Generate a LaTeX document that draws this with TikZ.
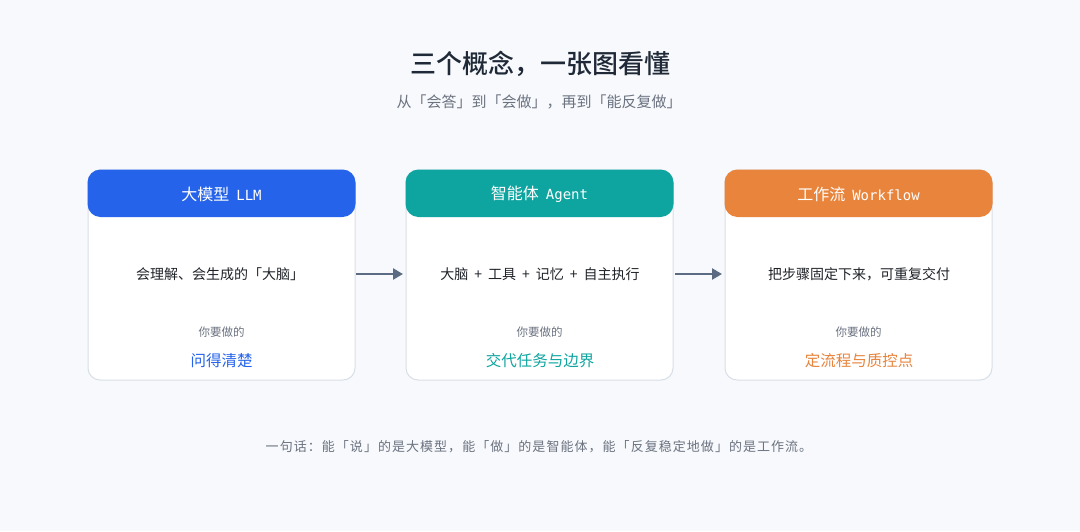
\documentclass[tikz,border=0pt]{standalone}
\usepackage{fontspec}
\setmainfont{Noto Sans CJK SC}
\newfontfamily\cjkb{Noto Sans CJK SC Medium}
\newfontfamily\cjksp[LetterSpace=8]{Noto Sans CJK SC}
\newfontfamily\monof{DejaVu Sans Mono}
\usetikzlibrary{arrows.meta}
\definecolor{bg}{HTML}{F7F9FC}
\definecolor{cardline}{HTML}{D9DFE7}
\definecolor{cblue}{HTML}{2563EB}
\definecolor{cteal}{HTML}{0EA5A0}
\definecolor{corange}{HTML}{E8843C}
\definecolor{arrowc}{HTML}{5B6B82}
\definecolor{titlec}{HTML}{1F2937}
\definecolor{subc}{HTML}{6B7280}
\definecolor{bodyc}{HTML}{1F2328}
\newcommand{\plussep}{\hspace{6pt}+\hspace{6pt}}
\newcommand{\headmono}[1]{\hspace*{7pt}{\monof\fontsize{14}{17}\selectfont #1}}
\tikzset{
  x=1pt,y=-1pt,
  cardbox/.style={draw=cardline,line width=1pt,fill=white,rounded corners=12pt},
  headbox/.style={rounded corners=13pt},
  headtext/.style={text=white,font=\fontsize{16}{19}\selectfont},
  bodytext/.style={text=bodyc,font=\fontsize{14}{17}\selectfont},
  needtext/.style={text=subc,font=\fontsize{11.5}{14}\selectfont},
  keytext/.style={font=\fontsize{15.5}{19}\selectfont},
  flowarrow/.style={draw=arrowc,line width=2.4pt,-{Triangle[length=10pt,width=11pt]}},
}
\begin{document}
\begin{tikzpicture}
\fill[bg] (0,0) rectangle (1080,531);
\useasboundingbox (0,0) rectangle (1080,531);

\node[text=titlec,font=\cjkb\fontsize{26}{31}\selectfont] (title) at (540,64) {三个概念，一张图看懂};
\node[text=subc,font=\fontsize{15}{18}\selectfont] (sub) at (539,102) {从「会答」到「会做」，再到「能反复做」};

% cards
\foreach \x/\c/\n in {88/cblue/a,406/cteal/b,725/corange/c}{
  \draw[cardbox] (\x,170) rectangle (\x+267,380);
  \fill[\c,headbox] (\x-0.5,169.5) rectangle (\x+267.5,217);
}
\node[headtext] (ha) at (221.5,194) {大模型\headmono{LLM}};
\node[headtext] (hb) at (539.5,194) {智能体\headmono{Agent}};
\node[headtext] (hc) at (858.5,194) {工作流\headmono{Workflow}};

\node[bodytext] (ba) at (220,274) {会理解、会生成的「大脑」};
\node[bodytext] (bb) at (540,274) {大脑\plussep 工具\plussep 记忆\plussep 自主执行};
\node[bodytext] (bc) at (859,274) {把步骤固定下来，可重复交付};

\node[needtext] (na) at (221.5,332) {你要做的};
\node[needtext] (nb) at (539.5,332) {你要做的};
\node[needtext] (nc) at (858.5,332) {你要做的};

\node[keytext,text=cblue] (ka) at (221.5,361) {问得清楚};
\node[keytext,text=cteal] (kb) at (540,361) {交代任务与边界};
\node[keytext,text=corange] (kc) at (859,361) {定流程与质控点};

\coordinate (a1) at (356,274);
\coordinate (a2) at (403,274);
\coordinate (b1) at (675,274);
\coordinate (b2) at (722,274);
\draw[flowarrow] (a1) -- (a2);
\draw[flowarrow] (b1) -- (b2);

\node[text=subc,font=\cjksp\fontsize{13}{16}\selectfont] (foot) at (539,447) {一句话：能「说」的是大模型，能「做」的是智能体，能「反复稳定地做」的是工作流。};
\end{tikzpicture}
\end{document}
